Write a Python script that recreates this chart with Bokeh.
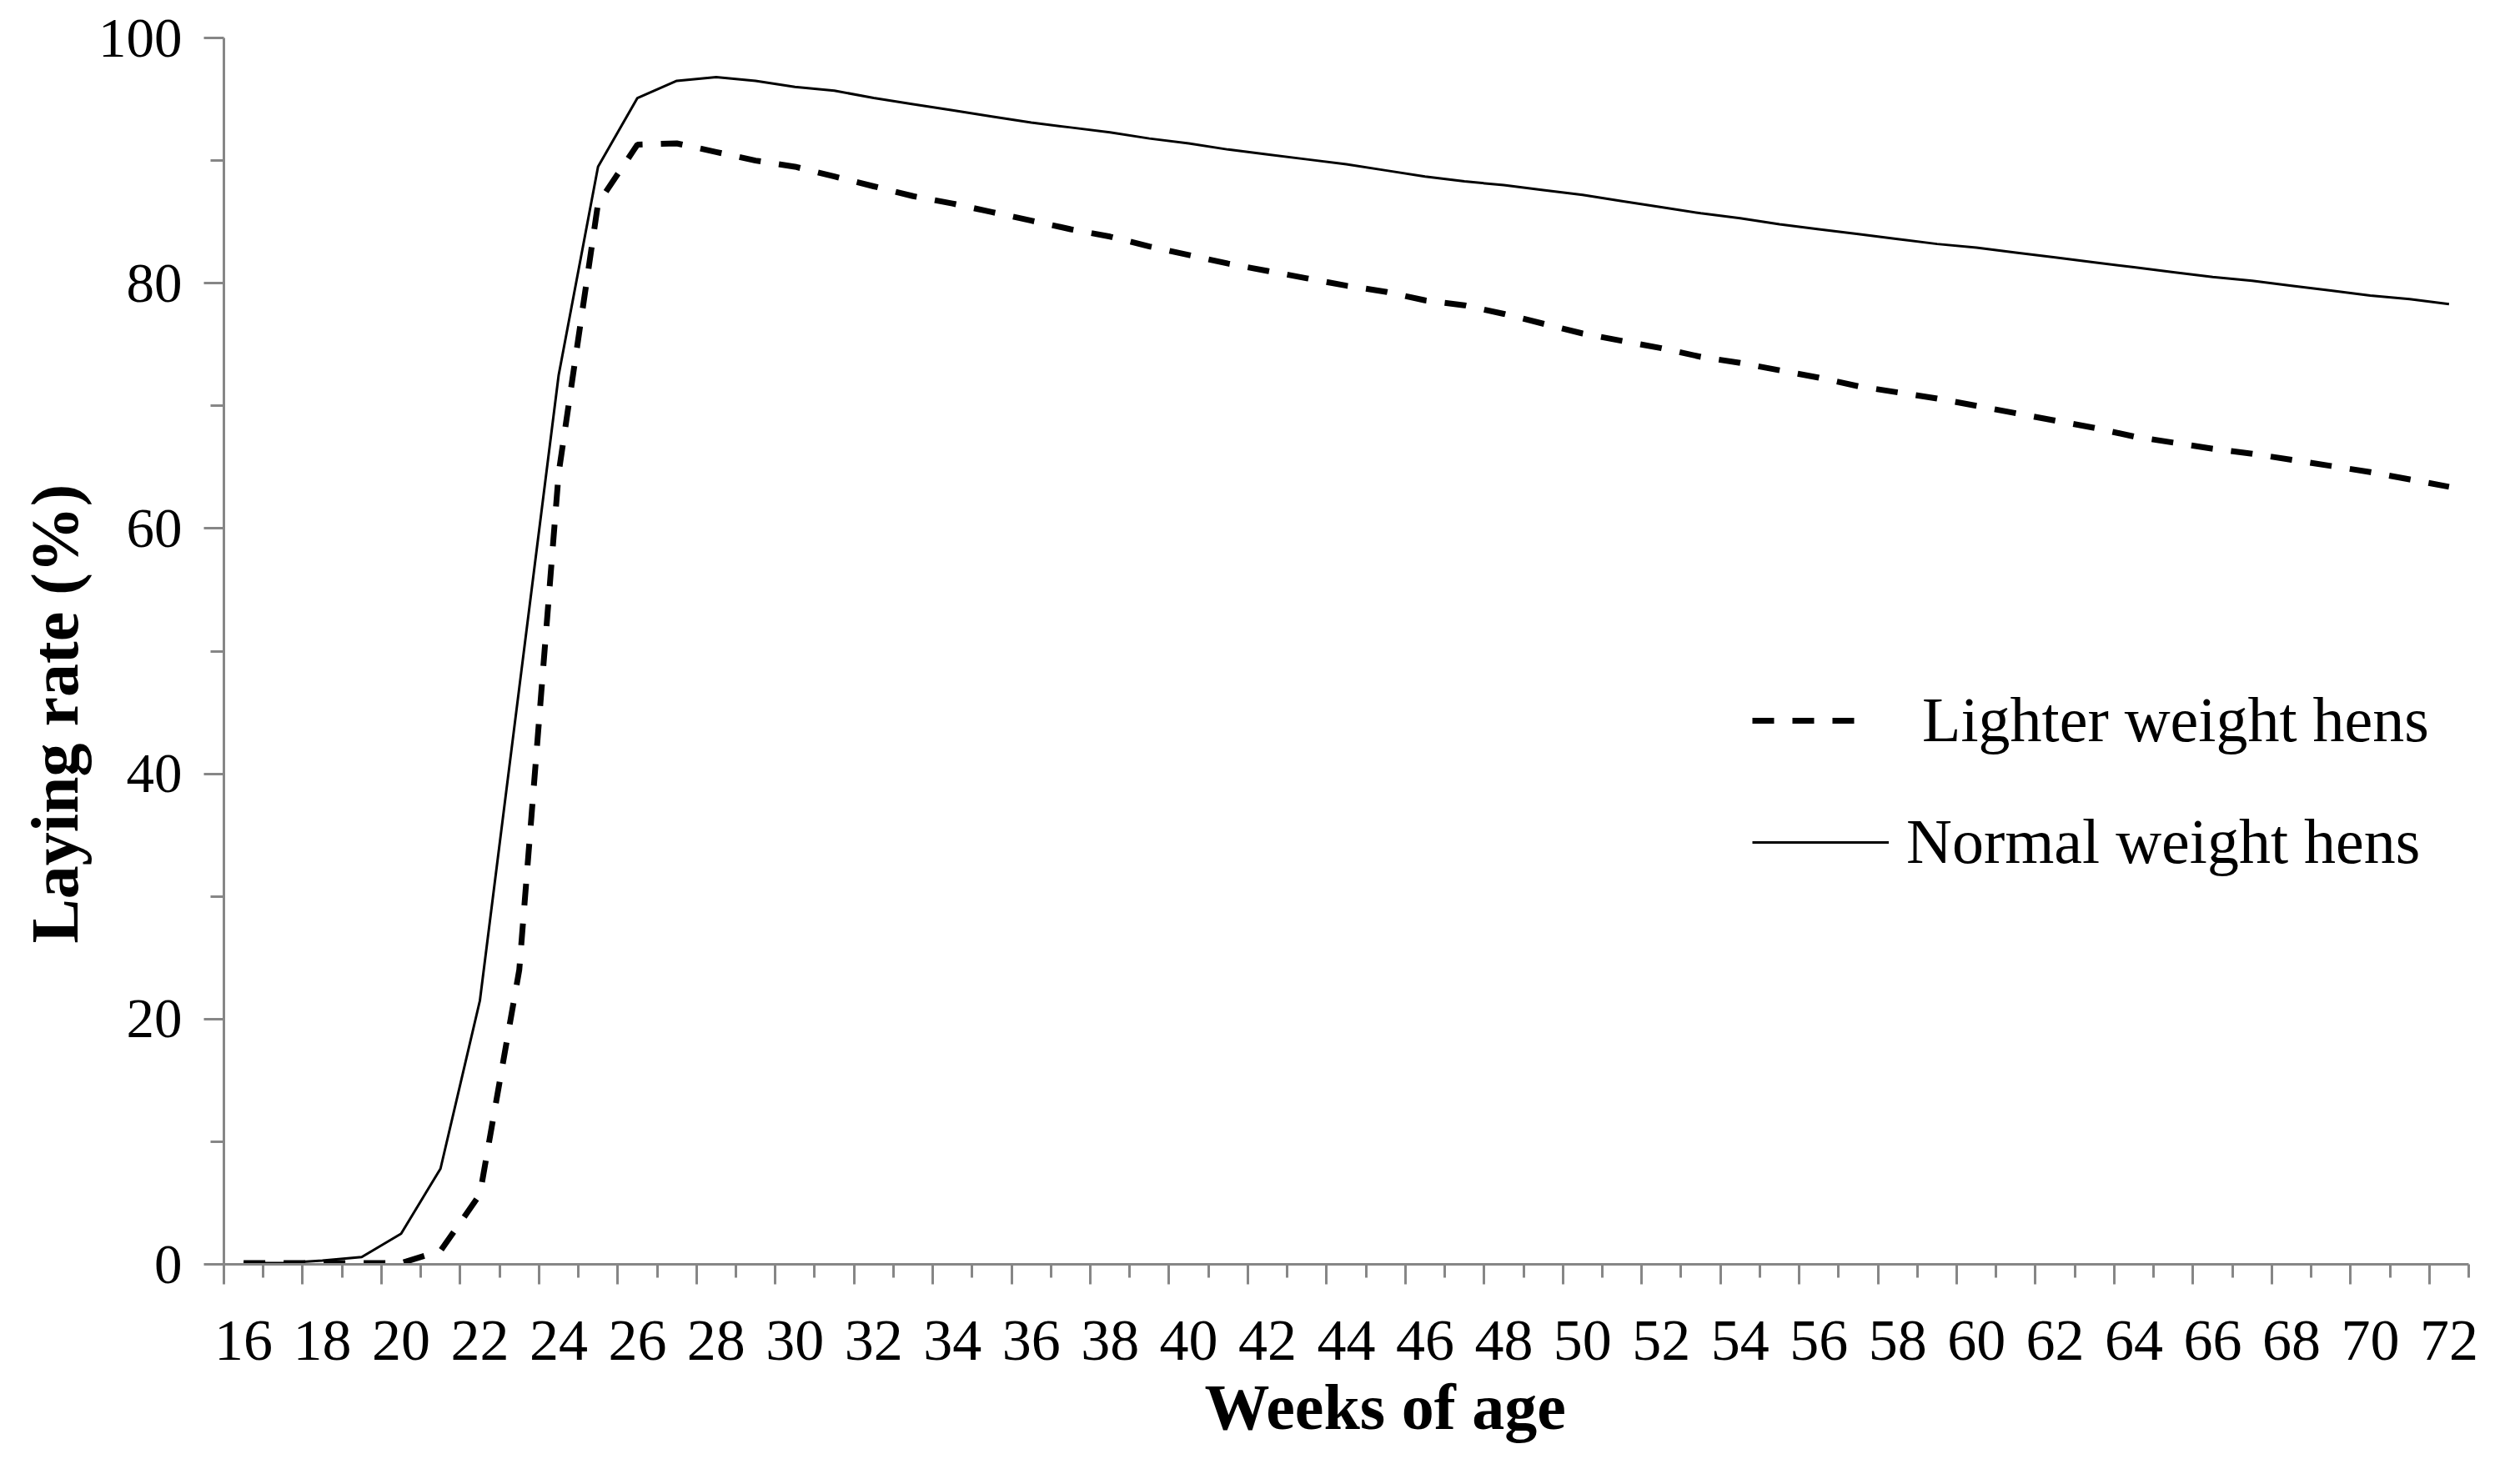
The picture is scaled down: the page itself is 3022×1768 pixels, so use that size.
from bokeh.plotting import figure
from bokeh.models import Range1d, FixedTicker, LinearAxis, Legend, LegendItem, Title
from bokeh.embed import file_html
from bokeh.resources import INLINE

# ---------------- data ----------------
weeks = list(range(16, 73))
lighter = [0.1, 0.1, 0.1, 0.1, 0.1, 1.1, 5.7, 24.0, 64.5, 86.5,
           91.3, 91.4, 90.7, 90.0, 89.5, 88.7, 87.9, 87.1, 86.5, 85.8,
           85.1, 84.4, 83.8, 83.0, 82.3, 81.6, 81.0, 80.4, 79.8, 79.3,
           78.6, 78.2, 77.5, 76.7, 75.9, 75.3, 74.7, 74.0, 73.5, 72.9,
           72.3, 71.6, 71.1, 70.6, 70.0, 69.4, 68.8, 68.2, 67.5, 67.0,
           66.5, 66.1, 65.6, 65.1, 64.6, 64.0, 63.4]
normal = [0.1, 0.1, 0.3, 0.6, 2.5, 7.8, 21.5, 47.0, 72.5, 89.5,
          95.1, 96.5, 96.8, 96.5, 96.0, 95.7, 95.1, 94.6, 94.1, 93.6,
          93.1, 92.7, 92.3, 91.8, 91.4, 90.9, 90.5, 90.1, 89.7, 89.2,
          88.7, 88.3, 88.0, 87.6, 87.2, 86.7, 86.2, 85.7, 85.3, 84.8,
          84.4, 84.0, 83.6, 83.2, 82.9, 82.5, 82.1, 81.7, 81.3, 80.9,
          80.5, 80.2, 79.8, 79.4, 79.0, 78.7, 78.3]
x_label_weeks = list(range(16, 73, 2))
y_major = [0, 20, 40, 60, 80, 100]
y_minor = [10, 30, 50, 70, 90]
series_names = ["Lighter weight hens", "Normal weight hens"]
x_title = "Weeks of age"
y_title = "Laying rate (%)"

FONT = "Liberation Serif"
GRAY = "#868686"

# category boundaries (tick marks sit between categories)
bounds = [w - 0.5 for w in weeks] + [weeks[-1] + 0.5]
long_ticks = bounds[0::2]
short_ticks = bounds[1::2]

p = figure(width=3000, height=1750, output_backend="svg", toolbar_location=None,
           x_range=Range1d(bounds[0], bounds[-1]), y_range=Range1d(0, 100),
           x_axis_type=None, y_axis_type=None,
           min_border_left=268, min_border_right=40,
           min_border_top=45, min_border_bottom=234)
p.outline_line_color = None
p.background_fill_color = "white"
p.border_fill_color = "white"


def style_ticks(ax):
    ax.axis_line_color = GRAY
    ax.axis_line_width = 3
    ax.major_tick_line_color = GRAY
    ax.major_tick_line_width = 3
    ax.major_tick_in = 0
    ax.major_tick_out = 24
    ax.minor_tick_line_color = GRAY
    ax.minor_tick_line_width = 3
    ax.minor_tick_in = 0
    ax.minor_tick_out = 16


# ---- y axis ----
yax = LinearAxis(ticker=FixedTicker(ticks=y_major, minor_ticks=y_minor))
style_ticks(yax)
yax.major_label_text_font = FONT
yax.major_label_text_font_size = "67px"
yax.major_label_text_color = "black"
yax.major_label_standoff = 26
p.add_layout(yax, "left")

# ---- x axis: tick marks between categories (no labels) ----
xticks_ax = LinearAxis(ticker=FixedTicker(ticks=long_ticks, minor_ticks=short_ticks))
style_ticks(xticks_ax)
xticks_ax.major_label_text_color = None
xticks_ax.major_label_standoff = 0
p.add_layout(xticks_ax, "below")

# ---- x axis: labels centred on categories ----
xlab_ax = LinearAxis(ticker=FixedTicker(ticks=x_label_weeks, minor_ticks=[]))
xlab_ax.axis_line_color = None
xlab_ax.major_tick_line_color = None
xlab_ax.minor_tick_line_color = None
xlab_ax.major_tick_in = 0
xlab_ax.major_tick_out = 0
xlab_ax.minor_tick_in = 0
xlab_ax.minor_tick_out = 0
xlab_ax.major_label_text_font = FONT
xlab_ax.major_label_text_font_size = "70px"
xlab_ax.major_label_text_color = "black"
xlab_ax.major_label_standoff = 44
p.add_layout(xlab_ax, "below")

# ---- axis titles ----
p.add_layout(Title(text=x_title, align="left", offset=1176, vertical_align="top",
                   standoff=20, text_font=FONT, text_font_size="78px",
                   text_font_style="bold", text_color="black"), "below")
p.add_layout(Title(text=y_title, align="left", offset=385, vertical_align="bottom",
                   text_font=FONT, text_font_size="80px",
                   text_font_style="bold", text_color="black"), "left")

# ---- lines ----
r_light = p.line(weeks, lighter, line_color="black", line_width=7,
                 line_dash="26 22", line_cap="butt")
r_norm = p.line(weeks, normal, line_color="black", line_width=3)

# ---- legends (two, to match separate sample lengths) ----
leg1 = Legend(items=[LegendItem(label=series_names[0], renderers=[r_light])],
              location=(1833, 609), glyph_width=138, glyph_height=40,
              label_standoff=66, padding=0, margin=0, spacing=0,
              border_line_color=None, background_fill_alpha=0,
              label_text_font=FONT, label_text_font_size="76px",
              label_text_color="black")
leg2 = Legend(items=[LegendItem(label=series_names[1], renderers=[r_norm])],
              location=(1833, 463), glyph_width=164, glyph_height=40,
              label_standoff=21, padding=0, margin=0, spacing=0,
              border_line_color=None, background_fill_alpha=0,
              label_text_font=FONT, label_text_font_size="76px",
              label_text_color="black")
p.add_layout(leg1)
p.add_layout(leg2)

open("out.html", "w").write(file_html(p, INLINE))
